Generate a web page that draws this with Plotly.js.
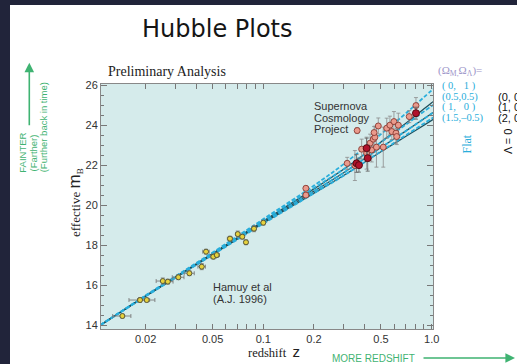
<!DOCTYPE html>
<html>
<head>
<meta charset="utf-8">
<script src="https://cdn.plot.ly/plotly-3.0.1.min.js"></script>
<style>
html,body{margin:0;padding:0;width:517px;height:364px;overflow:hidden;background:#21243a;}
#chart{position:absolute;left:10px;top:5px;width:507px;height:359px;background:#fff;}
</style>
</head>
<body>
<div id="chart"></div>
<script>
// ---- Model curves ----
const zModel      = [0.0108, 0.02, 0.05, 0.1, 0.2, 0.3, 0.5, 0.7, 1.0, 1.05];
const mFlat_0_1   = [14.0, 15.48, 17.63, 19.30, 20.98, 22.05, 23.55, 24.58, 25.74, 25.88];
const mFlat_05_05 = [14.0, 15.47, 17.59, 19.23, 20.86, 21.80, 23.14, 24.02, 24.96, 25.08];
const mFlat_1_0   = [14.0, 15.45, 17.55, 19.15, 20.70, 21.62, 22.88, 23.70, 24.58, 24.70];
const mFlat_15_m05= [14.0, 15.43, 17.51, 19.07, 20.59, 21.47, 22.69, 23.49, 24.33, 24.44];
const mL0_0_0     = [14.0, 15.46, 17.58, 19.20, 20.81, 21.79, 23.16, 24.08, 25.12, 25.25];
const mL0_1_0     = [14.0, 15.45, 17.55, 19.15, 20.70, 21.62, 22.88, 23.70, 24.58, 24.70];
const mL0_2_0     = [14.0, 15.44, 17.52, 19.10, 20.60, 21.48, 22.67, 23.43, 24.24, 24.35];

// ---- Hamuy et al. (1996) low-z supernovae ----
const hamuyZ    = [0.01455, 0.01853, 0.0203, 0.0253, 0.0271, 0.0313, 0.0364, 0.0431, 0.0457, 0.0505, 0.0529, 0.0634, 0.0705, 0.0750, 0.0789, 0.0881, 0.100];
const hamuyM    = [14.45, 15.25, 15.25, 16.20, 16.17, 16.39, 16.59, 16.92, 17.67, 17.42, 17.50, 18.32, 18.55, 18.42, 18.14, 18.82, 19.12];
const hamuyZErr = [0.0018, 0.0026, 0.0024, 0.0022, 0.0020, 0.0025, 0.0025, 0.0022, 0.0020, 0.0020, 0.0020, 0.0022, 0.0020, 0.0020, 0.0020, 0.0025, 0.0020];
const hamuyMErr = [0.10, 0.12, 0.10, 0.15, 0.12, 0.12, 0.12, 0.15, 0.12, 0.12, 0.12, 0.12, 0.15, 0.12, 0.12, 0.15, 0.12];

// ---- Supernova Cosmology Project high-z supernovae ----
const scpZ    = [0.179, 0.179, 0.315, 0.361, 0.384, 0.411, 0.431, 0.450, 0.440, 0.460, 0.455, 0.482, 0.470, 0.516, 0.541, 0.565, 0.597, 0.580, 0.614, 0.634, 0.620, 0.736, 0.807, 0.350];
const scpM    = [20.84, 20.50, 22.09, 23.73, 22.80, 22.60, 23.10, 23.30, 22.76, 23.40, 23.63, 23.96, 22.90, 22.90, 23.85, 24.00, 24.18, 23.68, 23.60, 24.00, 23.43, 24.43, 24.98, 21.98];
const scpMErr = [0.12, 0.12, 0.30, 0.15, 0.50, 0.80, 0.45, 0.35, 0.60, 0.55, 0.30, 0.40, 1.00, 1.00, 0.50, 0.45, 0.50, 0.40, 0.50, 0.60, 0.40, 0.30, 0.40, 0.75];
const scpDarkZ    = [0.358, 0.370, 0.411, 0.417, 0.807];
const scpDarkM    = [22.09, 22.00, 22.85, 22.35, 24.60];
const scpDarkMErr = [0.45, 0.35, 0.50, 0.65, 0.30];

// ---- Axis ticks ----
const xTickVals  = [0.02, 0.05, 0.1, 0.2, 0.5, 1.0];
const xTickText  = ['0.02', '0.05', '0.1', '0.2', '0.5', '1.0'];
const xMinorVals = [0.03,0.04,0.06,0.07,0.08,0.09,0.3,0.4,0.6,0.7,0.8,0.9];
const yTickVals  = [14,16,18,20,22,24,26];

const CYAN = '#2aaedb', SOLID = '#1d4f5c', GREEN = '#3fb372';

function solid(m){ return {x:zModel, y:m, mode:'lines', line:{color:SOLID, width:1.3, shape:'spline'}, hoverinfo:'skip'}; }
function dashed(m){ return {x:zModel, y:m, mode:'lines', line:{color:CYAN, width:1.8, dash:'4px,2px', shape:'spline'}, hoverinfo:'skip'}; }

const traces = [
  solid(mL0_0_0), solid(mL0_1_0), solid(mL0_2_0),
  dashed(mFlat_0_1), dashed(mFlat_05_05), dashed(mFlat_1_0), dashed(mFlat_15_m05),
  {x:hamuyZ, y:hamuyM, mode:'markers',
   error_x:{type:'data', array:hamuyZErr, color:'#7a7a7a', thickness:0.9, width:2},
   error_y:{type:'data', array:hamuyMErr, color:'#7a7a7a', thickness:0.9, width:2},
   marker:{size:5, color:'#e6d13c', line:{color:'#5a5a3a', width:1}}},
  {x:scpZ, y:scpM, mode:'markers',
   error_y:{type:'data', array:scpMErr, color:'#8c8c8c', thickness:0.8, width:2},
   marker:{size:6, color:'#ea9a8c', line:{color:'#8a3a32', width:0.9}}},
  {x:scpDarkZ, y:scpDarkM, mode:'markers',
   error_y:{type:'data', array:scpDarkMErr, color:'#6a6a6a', thickness:0.9, width:2},
   marker:{size:7, color:'#b0122b', line:{color:'#5a0a12', width:1}}}
];

// page-pixel -> paper coords
const L = 101, T = 84, W = 332, H = 245;
const px = x => (x - L) / W;
const py = y => (T + H - y) / H;
function ann(text, x, y, font, o){
  return Object.assign({xref:'paper', yref:'paper', x:px(x), y:py(y), text:text, showarrow:false,
    xanchor:'center', yanchor:'middle', borderpad:0, font:font}, o||{});
}
const serif = 'Liberation Serif, Times New Roman, serif';
const sans = 'Liberation Sans, Arial, sans-serif';

const annotations = [
  ann('Hubble Plots', 217, 29, {family:'DejaVu Sans, sans-serif', size:24, color:'#151515'}),
  ann('Preliminary Analysis', 167, 71.5, {family:serif, size:14, color:'#222'}),
  ann('effective <span style="font-family:Arial;font-size:17px">m</span><sub>B</sub>', 75, 203, {family:serif, size:13, color:'#222'}, {textangle:-90}),
  ann('redshift&nbsp;&nbsp;<span style="font-family:Arial;font-size:15px">z</span>', 274, 351, {family:serif, size:12.5, color:'#222'}),
  ann('Supernova', 312.5, 106, {family:sans, size:11, color:'#333'}, {xanchor:'left'}),
  ann('Cosmology', 312.5, 117.5, {family:sans, size:11, color:'#333'}, {xanchor:'left'}),
  ann('Project', 312.5, 129, {family:sans, size:11, color:'#333'}, {xanchor:'left'}),
  ann('Hamuy et al', 211.5, 286.7, {family:sans, size:11, color:'#333'}, {xanchor:'left'}),
  ann('(A.J. 1996)', 211.5, 298.5, {family:sans, size:11, color:'#333'}, {xanchor:'left'}),
  ann('(Ω<sub>M,</sub>Ω<sub>Λ</sub>)=', 437, 71, {family:serif, size:11, color:'#9d96c9'}, {xanchor:'left'}),
  ann('(\u00a00,\u00a0\u00a0\u00a01\u00a0)', 441, 86, {family:serif, size:10.5, color:CYAN}, {xanchor:'left'}),
  ann('(0.5,0.5)', 441, 96.7, {family:serif, size:10.5, color:CYAN}, {xanchor:'left'}),
  ann('(\u00a01,\u00a0\u00a0\u00a00\u00a0)', 441, 107.3, {family:serif, size:10.5, color:CYAN}, {xanchor:'left'}),
  ann('(1.5,\u20130.5)', 441, 118.3, {family:serif, size:10.5, color:CYAN}, {xanchor:'left'}),
  ann('(0, 0)', 497, 96.7, {family:sans, size:11, color:'#111'}, {xanchor:'left'}),
  ann('(1, 0)', 497, 107.3, {family:sans, size:11, color:'#111'}, {xanchor:'left'}),
  ann('(2, 0)', 497, 118.3, {family:sans, size:11, color:'#111'}, {xanchor:'left'}),
  ann('Flat', 466, 143.5, {family:serif, size:12, color:CYAN}, {textangle:-90}),
  ann('Λ = 0', 508, 142, {family:sans, size:11, color:'#111'}, {textangle:-90}),
  ann('FAINTER', 21.7, 153, {family:sans, size:9.5, color:GREEN}, {textangle:-90}),
  ann('(Farther)', 32.5, 153, {family:sans, size:9.5, color:GREEN}, {textangle:-90}),
  ann('(Further back in time)', 43.3, 127, {family:sans, size:9.5, color:GREEN}, {textangle:-90}),
  ann('MORE REDSHIFT', 373, 358, {family:sans, size:10, color:GREEN}),
  {xref:'paper', yref:'paper', x:px(29.3), y:py(62.7), text:'', showarrow:true, ax:0, ay:64,
   arrowhead:2, arrowsize:1.2, arrowwidth:1.6, arrowcolor:GREEN},
  {xref:'paper', yref:'paper', x:px(515), y:py(358), text:'', showarrow:true, ax:-93, ay:0,
   arrowhead:2, arrowsize:1.2, arrowwidth:1.6, arrowcolor:GREEN}
];

const layout = {
  width:507, height:359,
  margin:{l:91, r:84, t:79, b:35},
  paper_bgcolor:'#ffffff', plot_bgcolor:'#d5ebeb',
  showlegend:false,
  xaxis:{type:'log', range:[-1.964, 0.008], tickmode:'array', tickvals:xTickVals, ticktext:xTickText,
    ticks:'inside', ticklen:5, tickwidth:1, tickcolor:'#777', mirror:'ticks', showline:true, linecolor:'#888', linewidth:1,
    minor:{tickmode:'array', tickvals:xMinorVals, ticks:'inside', ticklen:5, tickcolor:'#777', showgrid:false},
    showgrid:false, zeroline:false, tickfont:{family:sans, size:11, color:'#333'}},
  yaxis:{range:[13.8, 26.06], tickmode:'array', tickvals:yTickVals,
    ticks:'inside', ticklen:6, tickwidth:1, tickcolor:'#777', mirror:'ticks', showline:true, linecolor:'#888', linewidth:1,
    minor:{dtick:0.5, tick0:14, ticks:'inside', ticklen:3, tickcolor:'#777', showgrid:false},
    showgrid:false, zeroline:false, tickfont:{family:sans, size:11, color:'#333'}},
  annotations:annotations
};

Plotly.newPlot('chart', traces, layout, {displayModeBar:false, staticPlot:true});
</script>
</body>
</html>
